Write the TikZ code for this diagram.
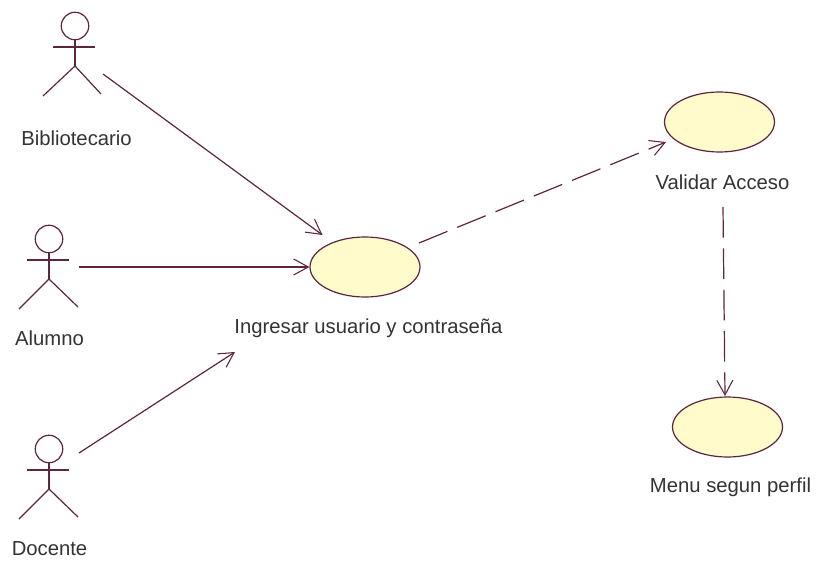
\documentclass[tikz,border=0pt]{standalone}
\usepackage{fontspec}
\setmainfont{Liberation Sans}
\usetikzlibrary{arrows.meta,shapes.geometric}
\definecolor{umlline}{HTML}{5E2440}
\definecolor{umlfill}{HTML}{FFFBCB}
\definecolor{umltext}{HTML}{333333}
\tikzset{
  x=0.75pt,y=-0.75pt,
  usecase/.style={draw=umlline,fill=umlfill,ellipse,line width=0.9pt,minimum width=82.5pt,minimum height=45pt,inner sep=0pt},
  lbl/.style={text=umltext,font=\fontsize{15.2pt}{17pt}\selectfont,inner sep=0pt},
  limb/.style={draw=umlline,line width=0.9pt},
  assoc/.style={draw=umlline,line width=0.9pt,-{Straight Barb[length=11pt,width=12pt,line width=0.8pt]}},
  dep/.style={assoc,dash pattern=on 23pt off 8pt}
}
\newcommand{\actorfig}[4]{%
  \begin{scope}[shift={(#1)}]
    \draw[limb] (0,0) circle[radius=10.3pt];
    \draw[limb,line width=1.2pt] (-22,21) -- (20,21);
    \draw[limb,line width=1.2pt] (0,14) -- (0,40);
    \draw[limb] (#2,70) -- (0,40) -- (#3,68);
  \end{scope}%
  \coordinate (#4) at (#1);%
}
\begin{document}
\begin{tikzpicture}
\useasboundingbox[fill=white] (0,0) rectangle (816,563);
\actorfig{75,26}{-32}{26}{bibfig}
\actorfig{49,239}{-30}{29}{alufig}
\actorfig{49,449}{-30}{29}{docfig}
\node[lbl] (bib) at (76.5,138) {Bibliotecario};
\node[lbl] (alu) at (49.5,338) {Alumno};
\node[lbl] (doc) at (49.5,549) {Docente};
\node[usecase] (ing) at (365,267) {};
\node[usecase] (val) at (719.5,122) {};
\node[usecase] (men) at (727.5,427) {};
\node[lbl] (ingl) at (368.5,328) {Ingresar usuario y contraseña};
\node[lbl] (vall) at (722.5,182) {Validar Acceso};
\node[lbl] (menl) at (730.5,487) {Menu segun perfil};
\coordinate (a1) at (103,74);
\coordinate (a1e) at (322.5,235);
\coordinate (a2) at (79,267);
\coordinate (a3) at (79,453);
\coordinate (a3e) at (235,352);
\coordinate (d1) at (419,243);
\coordinate (d1e) at (666,142);
\coordinate (d2) at (723,207);
\coordinate (d2e) at (725,396);
\draw[assoc] (a1) -- (a1e);
\draw[assoc] (a2) -- (ing.west);
\draw[assoc] (a3) -- (a3e);
\draw[dep] (d1) -- (d1e);
\draw[dep] (d2) -- (d2e);
\end{tikzpicture}
\end{document}
